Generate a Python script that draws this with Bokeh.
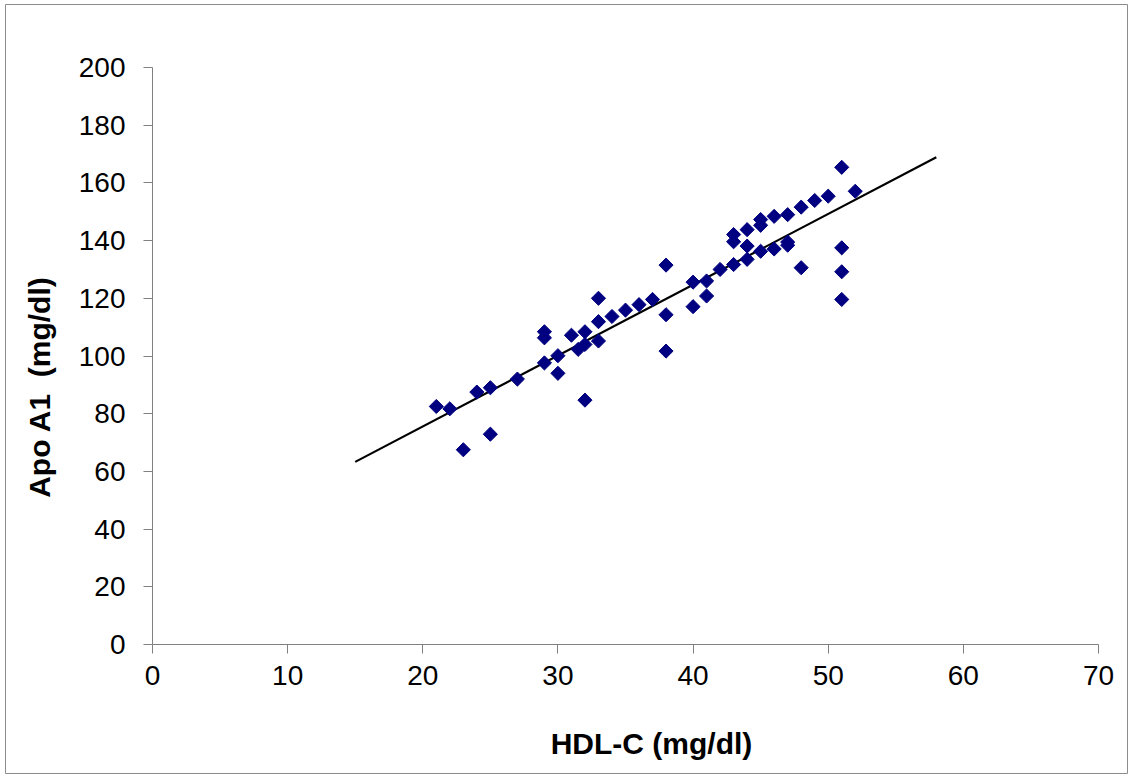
import math
from bokeh.plotting import figure
from bokeh.models import Range1d, FixedTicker, ColumnDataSource, LinearAxis, Label
from bokeh.embed import file_html
from bokeh.resources import INLINE

# Data
hdl_c = [21, 22, 23, 24, 25, 25, 27, 29, 29, 29, 30, 30, 31, 31.5, 32, 32, 32,
         33, 33, 33, 34, 35, 36, 37, 38, 38, 38, 40, 40, 41, 41, 42,
         43, 43, 43, 44, 44, 44, 45, 45, 45, 46, 46, 47, 47, 47, 48, 48,
         49, 50, 51, 51, 51, 51, 52]
apo_a1 = [82.5, 81.7, 67.5, 87.5, 89.0, 72.9, 92.0, 108.4, 106.3, 97.6, 100.1, 94.0,
          107.2, 102.3, 104.0, 108.4, 84.7, 120.0, 111.9, 105.2, 113.7, 115.9, 117.8,
          119.6, 131.5, 114.3, 101.7, 125.6, 117.1, 126.0, 120.8, 130.0,
          142.1, 139.6, 131.7, 143.8, 138.1, 133.5, 147.3, 145.3, 136.3,
          148.4, 137.1, 149.0, 139.5, 138.4, 151.6, 130.6, 153.9, 155.4,
          165.4, 137.5, 129.2, 119.6, 157.1]
trend_x = [15, 58]
trend_y = [63.3, 168.9]

x_ticks = [0, 10, 20, 30, 40, 50, 60, 70]
y_ticks = [0, 20, 40, 60, 80, 100, 120, 140, 160, 180, 200]
x_title = "HDL-C (mg/dl)"
y_title = "Apo A1\u00a0 (mg/dl)"

FONT = "Liberation Sans"
AXIS_GRAY = "#808080"

# The frame spans the whole chart area (its outline is the chart border);
# the axes sit at x=0 / y=0 inside it, like the plot area of the original.
W, H = 1129, 776
fl, fr, ft, fb = 5, 1127, 4, 773          # chart-area box in pixels
px0, px70, py0, py200 = 152, 1098, 644, 67  # plot-area corners in pixels
sx = (px70 - px0) / 70.0
sy = (py0 - py200) / 200.0
x_rng = Range1d((fl - px0) / sx, (fr - px0) / sx)
y_rng = Range1d((py0 - fb) / sy, (py0 - ft) / sy)

p = figure(width=W, height=H, output_backend="svg", toolbar_location=None,
           x_range=x_rng, y_range=y_rng, x_axis_type=None, y_axis_type=None,
           min_border_left=fl, min_border_right=W - fr, min_border_top=ft,
           min_border_bottom=H - fb)
p.outline_line_color = "#8c8c8c"
p.outline_line_width = 1
p.grid.grid_line_color = None
p.background_fill_color = "white"
p.border_fill_color = "white"

xaxis = LinearAxis(fixed_location=0, bounds=(0, 70))
yaxis = LinearAxis(fixed_location=0, bounds=(0, 200))
for ax, ticks in ((xaxis, x_ticks), (yaxis, y_ticks)):
    ax.ticker = FixedTicker(ticks=ticks)
    ax.axis_line_color = AXIS_GRAY
    ax.major_tick_line_color = AXIS_GRAY
    ax.major_tick_out = 9
    ax.major_tick_in = 0
    ax.minor_tick_line_color = None
    ax.major_label_text_font = FONT
    ax.major_label_text_font_size = "28px"
    ax.major_label_text_color = "black"
xaxis.major_label_standoff = 12
yaxis.major_label_standoff = 18
p.add_layout(xaxis, "below")
p.add_layout(yaxis, "left")

p.line(trend_x, trend_y, line_color="black", line_width=2.2)
src = ColumnDataSource(dict(x=hdl_c, y=apo_a1))
p.scatter("x", "y", source=src, marker="square", angle=math.pi / 4, size=10,
          fill_color="#000080", line_color="#000080", line_width=1)

p.add_layout(Label(x=(651 - px0) / sx, y=(py0 - 743) / sy, text=x_title,
                   text_font=FONT, text_font_size="30px", text_font_style="bold",
                   text_color="black", text_align="center",
                   text_baseline="alphabetic"))
p.add_layout(Label(x=(39 - px0) / sx, y=(py0 - 386.5) / sy, text=y_title,
                   text_font=FONT, text_font_size="30px", text_font_style="bold",
                   text_color="black", text_align="center",
                   text_baseline="middle", angle=math.pi / 2))

open("out.html", "w").write(file_html(p, INLINE))
